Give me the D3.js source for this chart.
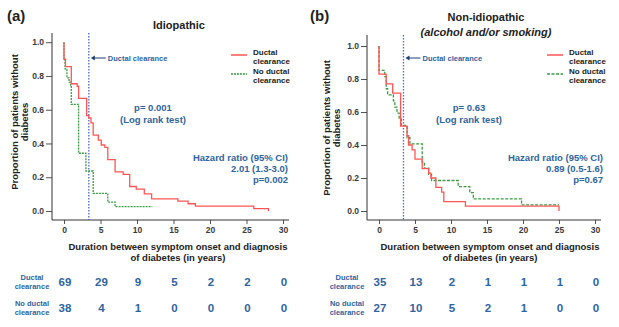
<!DOCTYPE html>
<html>
<head>
<meta charset="utf-8">
<script src="https://cdn.jsdelivr.net/npm/d3@7"></script>
<style>
  body { margin: 0; background: #fff; }
  svg { font-family: "Liberation Sans", Arial, sans-serif; font-weight: bold; }
</style>
</head>
<body>
<div id="chart"></div>
<script>
// years shown on the x axis and in the at-risk table
const years = [0, 5, 10, 15, 20, 25, 30]
const yTicks = [0, 0.2, 0.4, 0.6, 0.8, 1.0]
const clearanceYear = 3.4

// Kaplan-Meier steps [year, proportion]
const idioDuctal = [[0,1],[0,0.899],[0.2,0.855],[1.0,0.754],[1.8,0.739],[2.0,0.667],[3.1,0.565],[3.4,0.551],
  [3.7,0.522],[4.0,0.449],[4.7,0.42],[5.1,0.391],[5.6,0.377],[6.0,0.304],[7.0,0.232],[8.1,0.217],[9.0,0.145],
  [9.9,0.13],[11.0,0.101],[12.0,0.072],[15.6,0.058],[17.0,0.043],[18.0,0.029],[26.0,0.014],[28.0,0.0]]
const idioNoDuctal = [[0,1],[0,0.895],[0.15,0.842],[0.4,0.789],[0.7,0.763],[0.9,0.737],[1.0,0.632],[2.0,0.342],
  [3.0,0.237],[4.0,0.105],[6.0,0.053],[7.0,0.026],[12.1,0.026]]
const nonDuctal = [[0,1],[0,0.829],[1.0,0.771],[1.9,0.714],[3.0,0.514],[3.9,0.457],[4.1,0.4],[4.6,0.371],
  [5.0,0.314],[6.0,0.257],[6.9,0.229],[7.2,0.2],[7.9,0.143],[8.7,0.114],[9.0,0.057],[12.0,0.029],[25.0,0.0]]
const nonNoDuctal = [[0,1],[0,0.852],[0.8,0.815],[1.0,0.741],[1.2,0.704],[2.0,0.667],[2.2,0.63],[2.5,0.593],
  [2.8,0.556],[3.1,0.519],[3.9,0.444],[4.3,0.407],[6.0,0.296],[6.3,0.259],[6.9,0.222],[7.3,0.185],[11.0,0.148],
  [12.6,0.111],[13.1,0.074],[19.8,0.037],[25.0,0.037]]

// numbers at risk
const idioDuctalRisk = [69, 29, 9, 5, 2, 2, 0]
const idioNoDuctalRisk = [38, 4, 1, 0, 0, 0, 0]
const nonDuctalRisk = [35, 13, 2, 1, 1, 1, 0]
const nonNoDuctalRisk = [27, 10, 5, 2, 1, 0, 0]

const blue = '#2f64a0'
const red = '#ff5555'
const green = '#3a9d45'

const svg = d3.select('#chart').append('svg')
  .attr('width', 619)
  .attr('height', 327)

function drawPanel(p){
  const g = svg.append('g')
  const x = d3.scaleLinear().domain([0, 30]).range([p.x0, p.x30])
  const y = d3.scaleLinear().domain([0, 1]).range([211, p.y1])

  // panel letter + title
  g.append('text').attr('x', p.letterX).attr('y', 21).attr('font-size', 15).attr('fill', '#222').text(p.letter)
  p.title.forEach(function(t, i){
    g.append('text').attr('x', p.titleX).attr('y', p.titleY[i]).attr('text-anchor', 'middle')
      .attr('font-size', 11).attr('font-style', i == 1 ? 'italic' : 'normal').attr('fill', '#222').text(t)
  })

  // axes
  const ya = g.append('g').attr('transform', 'translate(' + p.axisX + ',0)')
    .call(d3.axisLeft(y).tickValues(yTicks).tickFormat(d3.format('.1f')).tickSize(6).tickPadding(2))
  const xa = g.append('g').attr('transform', 'translate(0,220)')
    .call(d3.axisBottom(x).tickValues(years).tickSize(4).tickPadding(3))
  ;[ya, xa].forEach(function(a){
    a.select('.domain').remove()
    a.selectAll('text').attr('font-size', 8.5).attr('font-family', null).attr('fill', '#3a3a3a')
    a.selectAll('line').attr('stroke', '#555')
  })
  g.append('line').attr('x1', p.axisX).attr('x2', p.axisX).attr('y1', p.axisTop).attr('y2', 220).attr('stroke', '#333')
  g.append('line').attr('x1', p.axisX).attr('x2', p.axisRight).attr('y1', 220).attr('y2', 220).attr('stroke', '#333')

  // y title
  const yt = g.append('text').attr('transform', 'translate(' + p.yTitleX + ',' + p.yTitleY + ') rotate(-90)')
    .attr('text-anchor', 'middle').attr('font-size', 9.5).attr('fill', '#222')
  yt.append('tspan').attr('x', 0).attr('y', 0).text('Proportion of patients without')
  yt.append('tspan').attr('x', 0).attr('y', 10).text('diabetes')

  // x title
  g.append('text').attr('x', p.xTitleX).attr('y', 250).attr('text-anchor', 'middle').attr('font-size', 9.5)
    .attr('fill', '#222').text('Duration between symptom onset and diagnosis')
  g.append('text').attr('x', p.xTitleX).attr('y', 261).attr('text-anchor', 'middle').attr('font-size', 9.5)
    .attr('fill', '#222').text('of diabetes (in years)')

  // ductal clearance marker
  g.append('line').attr('x1', x(clearanceYear)).attr('x2', x(clearanceYear)).attr('y1', p.axisTop).attr('y2', 220)
    .attr('stroke', '#5068c0').attr('stroke-width', 1.3).attr('stroke-dasharray', '1.5,1.5')
  const ax = x(clearanceYear)
  g.append('line').attr('x1', ax + 4).attr('x2', ax + 17).attr('y1', 58).attr('y2', 58).attr('stroke', '#1d3f73').attr('stroke-width', 1)
  g.append('path').attr('d', 'M' + (ax + 2) + ',58 l4,-2.5 l0,5 z').attr('fill', '#1d3f73')
  g.append('text').attr('x', ax + 19).attr('y', 60.5).attr('font-size', 7.5).attr('fill', blue).text('Ductal clearance')

  // KM curves
  const line = d3.line().x(function(d){return x(d[0])}).y(function(d){return y(d[1])}).curve(d3.curveStepAfter)
  g.append('path').datum(p.noDuctal).attr('d', line).attr('fill', 'none').attr('stroke', green)
    .attr('stroke-width', 1.3).attr('stroke-dasharray', p.dash)
  g.append('path').datum(p.ductal).attr('d', line).attr('fill', 'none').attr('stroke', red).attr('stroke-width', 1.3)

  // legend
  g.append('line').attr('x1', p.legX).attr('x2', p.legX + 16).attr('y1', 55).attr('y2', 55).attr('stroke', red).attr('stroke-width', 1.5)
  g.append('line').attr('x1', p.legX).attr('x2', p.legX + 16).attr('y1', 74).attr('y2', 74).attr('stroke', green)
    .attr('stroke-width', 1.3).attr('stroke-dasharray', p.dash)
  ;[['Ductal', 54.5], ['clearance', 64], ['No ductal', 73.5], ['clearance', 83]].forEach(function(d){
    g.append('text').attr('x', p.legX + 22).attr('y', d[1]).attr('font-size', 8).attr('fill', '#222').text(d[0])
  })

  // statistics
  g.append('text').attr('x', p.pX).attr('y', 111).attr('text-anchor', 'middle').attr('font-size', 9.5).attr('fill', blue).text(p.pText)
  g.append('text').attr('x', p.pX).attr('y', 122.5).attr('text-anchor', 'middle').attr('font-size', 9.5).attr('fill', blue).text('(Log rank test)')
  p.hr.forEach(function(t, i){
    g.append('text').attr('x', p.hrX).attr('y', 160.5 + i * 11.2).attr('text-anchor', 'end')
      .attr('font-size', 9.5).attr('fill', blue).text(t)
  })

  // at-risk table
  const rows = [[p.ductalRisk, 'Ductal', 286], [p.noDuctalRisk, 'No ductal', 312]]
  rows.forEach(function(r){
    g.append('text').attr('x', p.riskLabelX).attr('y', r[2] - 6).attr('text-anchor', 'middle').attr('font-size', 7.5).attr('fill', blue).text(r[1])
    g.append('text').attr('x', p.riskLabelX).attr('y', r[2] + 3).attr('text-anchor', 'middle').attr('font-size', 7.5).attr('fill', blue).text('clearance')
    g.selectAll(null).data(r[0]).enter().append('text')
      .attr('x', function(d, i){return x(years[i]) + 1})
      .attr('y', r[2])
      .attr('text-anchor', 'middle')
      .attr('font-size', 11.5)
      .attr('fill', blue)
      .text(function(d){return d})
  })
}

drawPanel({
  letter: '(a)', letterX: 7, title: ['Idiopathic'], titleX: 179, titleY: [29],
  x0: 64, x30: 283, y1: 42.2, axisX: 52, axisTop: 33, axisRight: 289,
  yTitleX: 18, yTitleY: 122, xTitleX: 178, dash: '2,1',
  ductal: idioDuctal, noDuctal: idioNoDuctal, ductalRisk: idioDuctalRisk, noDuctalRisk: idioNoDuctalRisk,
  legX: 231, pX: 153, pText: 'p= 0.001', hrX: 288,
  hr: ['Hazard ratio (95% CI)', '2.01 (1.3-3.0)', 'p=0.002'], riskLabelX: 32
})

drawPanel({
  letter: '(b)', letterX: 310, title: ['Non-idiopathic', '(alcohol and/or smoking)'], titleX: 486, titleY: [21, 36],
  x0: 379, x30: 595, y1: 46, axisX: 367, axisTop: 35, axisRight: 601,
  yTitleX: 330, yTitleY: 128, xTitleX: 490, dash: '3,1.5',
  ductal: nonDuctal, noDuctal: nonNoDuctal, ductalRisk: nonDuctalRisk, noDuctalRisk: nonNoDuctalRisk,
  legX: 547, pX: 469, pText: 'p= 0.63', hrX: 603,
  hr: ['Hazard ratio (95% CI)', '0.89 (0.5-1.6)', 'p=0.67'], riskLabelX: 347
})
</script>
</body>
</html>
